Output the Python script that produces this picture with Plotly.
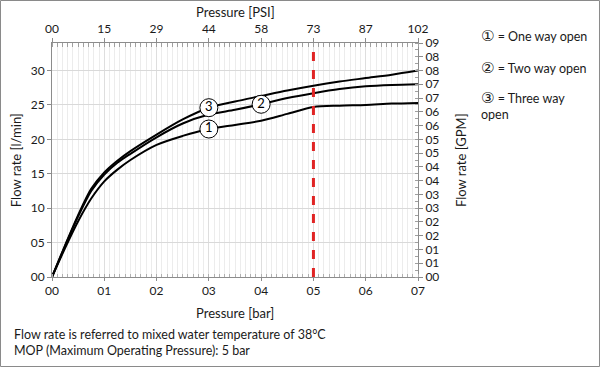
import plotly.graph_objects as go

# ---------------- data ----------------
pressure_bar = [0, 0.25, 0.5, 0.75, 1, 1.25, 1.5, 2, 2.5, 3, 3.5, 4, 4.5, 5, 5.5, 6, 6.5, 7]
flow_one_way = [0, 4.2, 8.1, 11.4, 13.9, 15.6, 17.0, 19.2, 20.5, 21.5, 22.1, 22.7, 23.7, 24.7, 24.9, 25.0, 25.2, 25.3]
flow_two_way = [0, 4.5, 8.8, 12.5, 14.9, 16.6, 17.9, 20.3, 22.3, 23.6, 24.3, 25.1, 26.0, 26.7, 27.3, 27.7, 27.9, 28.0]
flow_three_way = [0, 4.6, 9.0, 12.8, 15.2, 16.9, 18.3, 20.7, 22.9, 24.6, 25.5, 26.3, 27.1, 27.8, 28.4, 28.9, 29.4, 30.0]

label_names = ["1", "2", "3"]
label_x = [3, 4, 3]
label_y = [21.5, 25.1, 24.6]

bar_ticks = [0, 1, 2, 3, 4, 5, 6, 7]
bar_ticktext = ["00", "01", "02", "03", "04", "05", "06", "07"]
psi_ticktext = ["00", "15", "29", "44", "58", "73", "87", "102"]
lpm_ticks = [0, 5, 10, 15, 20, 25, 30]
lpm_ticktext = ["00", "05", "10", "15", "20", "25", "30"]
gpm_ticks = [0, 2, 4, 6, 8, 10, 12, 14, 16, 18, 20, 22, 24, 26, 28, 30, 32, 34]
gpm_ticktext = ["00", "01", "01", "02", "02", "03", "03", "04", "04",
                "05", "05", "06", "06", "07", "07", "08", "08", "09"]
mop_bar = 5

legend_symbols = ["①", "②", "③"]
legend_lines = [" = One way open", " = Two way open", " = Three way<br>open"]
footnotes = ["Flow rate is referred to mixed water temperature of 38°C",
             "MOP (Maximum Operating Pressure): 5 bar"]

FONT = "Lato"
TXT = "#1a1a1a"

fig = go.Figure()
for ys in (flow_one_way, flow_two_way, flow_three_way):
    fig.add_trace(go.Scatter(x=pressure_bar, y=ys, mode="lines",
                             line=dict(color="black", width=2, shape="spline", smoothing=0.8),
                             showlegend=False, hoverinfo="skip"))

fig.add_trace(go.Scatter(x=label_x, y=label_y, mode="markers+text", text=label_names,
                         textposition="middle center",
                         textfont=dict(family=FONT, size=13, color="black"),
                         marker=dict(size=18, color="white", line=dict(color="black", width=1)),
                         showlegend=False, hoverinfo="skip"))

# dummy traces to activate secondary axes
fig.add_trace(go.Scatter(x=[0], y=[0], xaxis="x2", yaxis="y", mode="markers",
                         marker=dict(opacity=0), showlegend=False, hoverinfo="skip"))
fig.add_trace(go.Scatter(x=[0], y=[0], xaxis="x", yaxis="y2", mode="markers",
                         marker=dict(opacity=0), showlegend=False, hoverinfo="skip"))

fig.add_shape(type="line", xref="x", yref="y", x0=mop_bar, x1=mop_bar, y0=0, y1=34,
              line=dict(color="#e02424", width=3, dash="dash"))

# frame around whole picture
fig.add_shape(type="rect", xref="paper", yref="paper",
              x0=-0.1407, x1=1.4959, y0=-0.3825, y1=1.1816,
              line=dict(color="#8a8a8a", width=1), layer="above")

axis_common = dict(showline=True, linecolor="#8c8c8c", linewidth=1,
                   tickfont=dict(family=FONT, size=12, color=TXT))

fig.update_layout(
    width=600, height=367,
    margin=dict(l=52, r=182, t=43, b=90),
    paper_bgcolor="white", plot_bgcolor="white",
    font=dict(family=FONT, color=TXT),
    xaxis=dict(range=[0, 7], tickvals=bar_ticks, ticktext=bar_ticktext,
               showgrid=True, gridcolor="#dedede", gridwidth=1,
               ticks="outside", ticklen=3, tickcolor="#8c8c8c",
               minor=dict(dtick=0.1, showgrid=True, gridcolor="#ececec", gridwidth=1,
                          ticks="inside", ticklen=3, tickcolor="#b0b0b0"),
               zeroline=False, **axis_common),
    xaxis2=dict(range=[0, 7], overlaying="x", side="top", tickvals=bar_ticks,
                ticktext=psi_ticktext, showgrid=False, ticks="outside", ticklen=4,
                tickcolor="#8c8c8c",
                minor=dict(dtick=0.1, ticks="inside", ticklen=4, tickcolor="#a0a0a0"),
                zeroline=False, **axis_common),
    yaxis=dict(range=[0, 34], tickvals=lpm_ticks, ticktext=lpm_ticktext,
               showgrid=True, gridcolor="#d9d9d9", gridwidth=1,
               ticks="outside", ticklen=4, tickcolor="#8c8c8c", zeroline=False,
               **axis_common),
    yaxis2=dict(range=[0, 34], overlaying="y", side="right", tickvals=gpm_ticks,
                ticktext=gpm_ticktext, showgrid=False, ticks="outside", ticklen=4,
                tickcolor="#8c8c8c", zeroline=False,
                minor=dict(dtick=1, ticks="inside", ticklen=3, tickcolor="#a0a0a0"),
                **axis_common),
)

ann = [
    dict(text="Flow rate [l/min]", x=-0.098, y=0.5, textangle=-90, font=dict(size=13)),
    dict(text="Flow rate [GPM]", x=1.1175, y=0.5, textangle=-90, font=dict(size=13)),
    dict(text="Pressure [PSI]", x=0.5, y=1.132, font=dict(size=13)),
    dict(text="Pressure [bar]", x=0.5, y=-0.154, font=dict(size=13)),
]
for a in ann:
    fig.add_annotation(xref="paper", yref="paper", showarrow=False,
                       xanchor="center", yanchor="middle",
                       **{k: v for k, v in a.items() if k != "font"},
                       font=dict(family=FONT, color=TXT, **a["font"]))

leg_y = [1.030, 0.893, 0.733]
for s, t, yy in zip(legend_symbols, legend_lines, leg_y):
    txt = f"<span style='font-family:DejaVu Sans;font-size:15px'>{s}</span>{t}"
    fig.add_annotation(xref="paper", yref="paper", x=1.168, y=yy, text=txt, showarrow=False,
                       xanchor="left", yanchor="middle", align="left",
                       font=dict(family=FONT, size=12.5, color=TXT))

for t, yy in zip(footnotes, [-0.244, -0.316]):
    fig.add_annotation(xref="paper", yref="paper", x=-0.109, y=yy, text=t, showarrow=False,
                       xanchor="left", yanchor="middle", align="left",
                       font=dict(family=FONT, size=12.5, color=TXT))

fig.write_html("out.html", config={"displayModeBar": False},
               post_script="document.body.style.margin='0';document.body.style.overflow='hidden';")
